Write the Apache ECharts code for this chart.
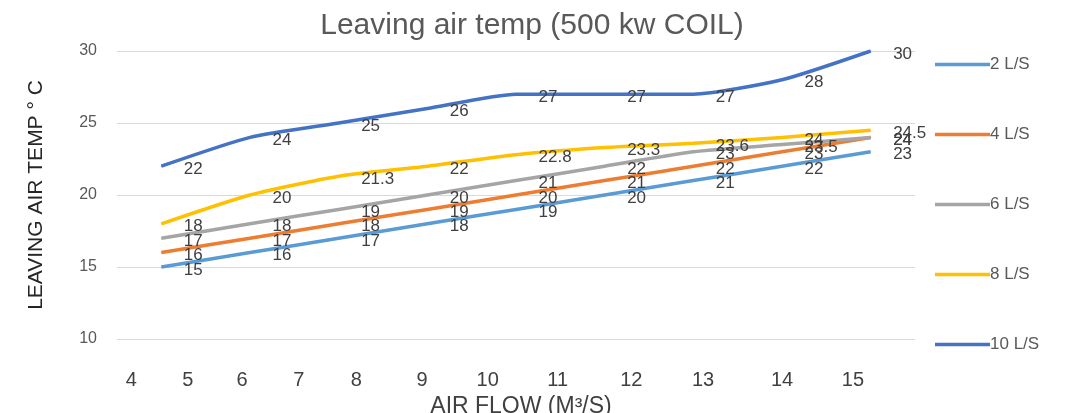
<!DOCTYPE html>
<html>
<head>
<meta charset="utf-8">
<script src="https://cdn.jsdelivr.net/npm/echarts@6/dist/echarts.min.js"></script>
<style>html,body{margin:0;padding:0;background:#fff}#c{width:1066px;height:413px}</style>
</head>
<body>
<div id="c"></div>
<script>
// Nine measurement points (category positions on the chart)
const points = ['1','2','3','4','5','6','7','8','9'];
// Series values (leaving air temp, °C)
const s2  = [15, 16, 17, 18, 19, 20, 21, 22, 23];
const s4  = [16, 17, 18, 19, 20, 21, 22, 23, 24];
const s6  = [17, 18, 19, 20, 21, 22, 23, 23.5, 24];
const s8  = [18, 20, 21.3, 22, 22.8, 23.3, 23.6, 24, 24.5];
const s10 = [22, 24, 25, 26, 27, 27, 27, 28, 30];
const seriesNames = ['2 L/S', '4 L/S', '6 L/S', '8 L/S', '10 L/S'];
// Air flow tick labels and where they sit, in point-index units
const xTickLabels = ['4','5','6','7','8','9','10','11','12','13','14','15'];
const xTickPos = [-0.34, 0.30, 0.91, 1.55, 2.20, 2.94, 3.68, 4.47, 5.30, 6.11, 7.00, 7.80];
const yTicks = [10, 15, 20, 25, 30];

const colors = ['#5B9BD5', '#ED7D31', '#A5A5A5', '#FFC000', '#4472C4'];
const allData = [s2, s4, s6, s8, s10];

const chart = echarts.init(document.getElementById('c'));
chart.setOption({
  animation: false,
  color: colors,
  title: {
    text: 'Leaving air temp (500 kw COIL)',
    left: 527, textAlign: 'center', top: 6,
    textStyle: { fontFamily: 'Liberation Sans', fontSize: 30, fontWeight: 'normal', color: '#595959' }
  },
  legend: {
    orient: 'vertical', left: 930, top: 51,
    icon: 'rect', itemWidth: 55, itemHeight: 3.5, itemGap: 53,
    data: seriesNames,
    textStyle: { fontFamily: 'Liberation Sans', fontSize: 17, color: '#595959', padding: [0,0,0,-5] }
  },
  grid: { left: 117, right: 151, top: 51, bottom: 74, outerBoundsMode: 'none', containLabel: false },
  xAxis: [{
    type: 'category', data: points, boundaryGap: true,
    axisLine: { show: false }, axisTick: { show: false }, axisLabel: { show: false }
  }, {
    type: 'value', min: -0.5, max: 8.5, position: 'bottom',
    axisLine: { show: false }, axisTick: { show: false }, splitLine: { show: false },
    axisLabel: {
      customValues: xTickPos, margin: 31,
      fontFamily: 'Liberation Sans', fontSize: 20, color: '#404040',
      formatter: function (v) {
        for (let i = 0; i < xTickPos.length; i++) if (Math.abs(xTickPos[i] - v) < 1e-6) return xTickLabels[i];
        return '';
      }
    },
    name: 'AIR FLOW (M³/S)', nameLocation: 'middle', nameGap: 55,
    nameTextStyle: { fontFamily: 'Liberation Sans', fontSize: 23, color: '#404040', padding: [0,0,0,10] }
  }],
  yAxis: {
    type: 'value', min: yTicks[0], max: yTicks[yTicks.length-1], interval: 5,
    axisLine: { show: false }, axisTick: { show: false },
    splitLine: { lineStyle: { color: '#d9d9d9', width: 1 } },
    axisLabel: { margin: 20, fontFamily: 'Liberation Sans', fontSize: 16, color: '#595959' },
    name: 'LEAVING AIR TEMP ° C', nameLocation: 'middle', nameGap: 70, nameRotate: 90,
    nameTextStyle: { fontFamily: 'Liberation Sans', fontSize: 21, color: '#262626' }
  },
  series: allData.map((d, i) => ({
    name: seriesNames[i], type: 'line', data: d, xAxisIndex: 0,
    symbol: 'circle', symbolSize: 1, showSymbol: true, smooth: 0.2,
    itemStyle: { color: colors[i] },
    lineStyle: { width: 3.5, color: colors[i] },
    label: { show: true, position: 'right', distance: 22, offset: [0, 3],
      fontFamily: 'Liberation Sans', fontSize: 17, color: '#404040' }
  }))
});
</script>
</body>
</html>
